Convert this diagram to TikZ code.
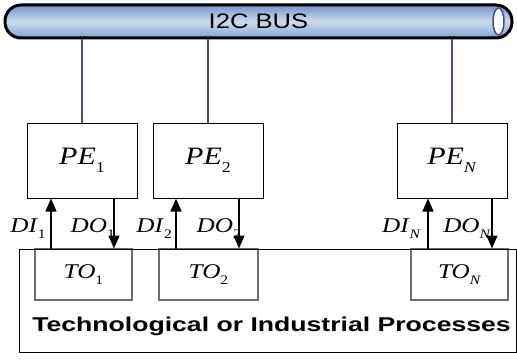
\documentclass[tikz,border=0pt]{standalone}
\usepackage{fontspec}
\setmainfont{Liberation Serif}
\setsansfont{Liberation Sans}
\usetikzlibrary{arrows.meta,shapes.geometric}
\definecolor{busline}{RGB}{75,75,143}
\definecolor{bustop}{RGB}{112,150,198}
\definecolor{busmid}{RGB}{204,220,238}
\definecolor{busbot}{RGB}{128,164,208}
\definecolor{tobord}{RGB}{110,110,110}
\newcommand{\lbl}[4]{\scalebox{1.2}[1]{\fontsize{#1}{#1}\selectfont\textit{#3}\raisebox{-0.3em}{\fontsize{#2}{#2}\selectfont #4}}}
\begin{document}
\begin{tikzpicture}[x=1pt,y=-1pt,
 bus/.style={draw=black,line width=3pt,rounded corners=16pt,top color=bustop,bottom color=busbot,middle color=busmid,minimum width=507pt,minimum height=33pt,inner sep=0pt,font=\sffamily},
 pebox/.style={draw=black,line width=1pt,minimum width=110pt,minimum height=75pt,inner sep=0pt},
 tobox/.style={draw=tobord,line width=1.3pt,minimum height=51pt,inner sep=0pt},
 procbox/.style={draw=black,line width=1pt,minimum width=497pt,minimum height=103pt,inner sep=0pt},
 busconn/.style={draw=busline,line width=1.3pt},
 arr/.style={line width=1.3pt,-{Triangle[length=13pt,width=11pt]}},
 sig/.style={inner sep=0pt,anchor=base east}]
\useasboundingbox (0,0) rectangle (517,361);
% bus
\node[bus] (bus) at (258.5,21.5) {\scalebox{1.22}[1]{\fontsize{21}{21}\selectfont I2C BUS}};
\node[ellipse,draw=busline,fill=white,line width=1.5pt,minimum width=11pt,minimum height=27pt,inner sep=0pt] (busend) at (498.5,21.5) {};
% processing elements
\node[pebox] (pe1) at (82,160.5) {\lbl{25}{15}{PE}{1}};
\node[pebox] (pe2) at (208,160.5) {\lbl{25}{15}{PE}{2}};
\node[pebox] (pen) at (452,160.5) {\lbl{25}{15}{PE}{\textit{N}}};
\draw[busconn] (pe1.north |- bus.south) -- (pe1.north);
\draw[busconn] (pe2.north |- bus.south) -- (pe2.north);
\draw[busconn] (pen.north |- bus.south) -- (pen.north);
% TO boxes
\node[tobox,minimum width=97pt] (to1) at (83.5,274.5) {\lbl{21}{13}{TO}{1}};
\node[tobox,minimum width=99pt] (to2) at (208.5,274.5) {\lbl{21}{13}{TO}{2}};
\node[tobox,minimum width=97pt] (ton) at (459.5,274.5) {\lbl{21}{13}{TO}{\textit{N}}};
% process box
\node[procbox] (proc) at (267.5,300.5) {};
\node[font=\sffamily\bfseries,inner sep=0pt] (proctext) at (271.5,326) {\scalebox{1.33}[1]{\fontsize{20}{20}\selectfont Technological or Industrial Processes}};
% signals
\coordinate (di1) at ([xshift=-31pt]pe1.south);
\coordinate (do1) at ([xshift=32pt]pe1.south);
\coordinate (di2) at ([xshift=-32pt]pe2.south);
\coordinate (do2) at ([xshift=31pt]pe2.south);
\coordinate (din) at ([xshift=-24pt]pen.south);
\coordinate (don) at ([xshift=40pt]pen.south);
\draw[arr] (di1 |- proc.north) -- (di1);
\draw[arr] (do1) -- (do1 |- proc.north);
\draw[arr] (di2 |- proc.north) -- (di2);
\draw[arr] (do2) -- (do2 |- proc.north);
\draw[arr] (din |- proc.north) -- (din);
\draw[arr] (don) -- (don |- proc.north);
\node[sig] (ldi1) at (46,232) {\lbl{21}{13}{DI}{1}};
\node[sig] (ldo1) at (115,232) {\lbl{21}{13}{DO}{1}};
\node[sig] (ldi2) at (172,232) {\lbl{21}{13}{DI}{2}};
\node[sig] (ldo2) at (241,232) {\lbl{21}{13}{DO}{2}};
\node[sig] (ldin) at (421,232) {\lbl{21}{13}{DI}{\textit{N}}};
\node[sig] (ldon) at (491,232) {\lbl{21}{13}{DO}{\textit{N}}};
\end{tikzpicture}
\end{document}
